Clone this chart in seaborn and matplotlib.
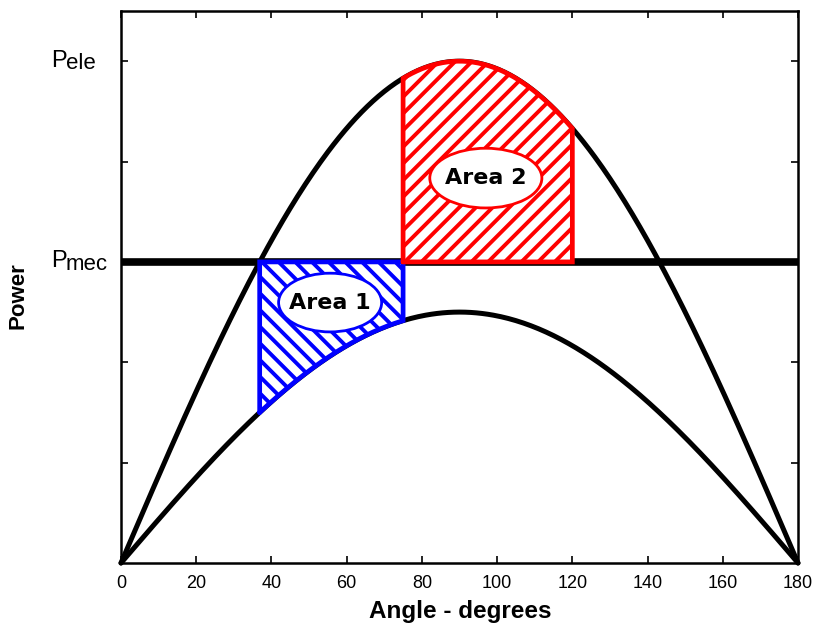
import numpy as np
import pandas as pd
import matplotlib
matplotlib.use("Agg")
import matplotlib.pyplot as plt
import seaborn as sns
from matplotlib.patches import Ellipse

# ---- data ----
p_ele_max = 1.0          # pre/post-fault peak power (Pele)
p_fault_max = 0.5        # during-fault peak power
p_mec = 0.6              # mechanical power (Pmec)
clear_angle = 75.0       # fault clearing angle, degrees
max_angle = 120.0        # maximum swing angle, degrees
x_ticks = [0, 20, 40, 60, 80, 100, 120, 140, 160, 180]
y_tick_vals = [0.2, 0.4, 0.6, 0.8, 1.0]
y_named = [("mec", p_mec), ("ele", p_ele_max)]
area_labels = ["Area 1", "Area 2"]

delta = np.linspace(0, 180, 361)
df = pd.DataFrame({
    "delta": np.concatenate([delta, delta]),
    "P": np.concatenate([p_ele_max * np.sin(np.radians(delta)),
                         p_fault_max * np.sin(np.radians(delta))]),
    "curve": ["ele"] * len(delta) + ["fault"] * len(delta),
})

sns.set_theme(style="white")
plt.rcParams["font.family"] = ["Liberation Sans", "DejaVu Sans"]
plt.rcParams["hatch.linewidth"] = 2.8
for k in ["text.color", "axes.labelcolor", "xtick.color", "ytick.color"]:
    plt.rcParams[k] = "black"

W, H = 822, 628
fig = plt.figure(figsize=(W / 100, H / 100), dpi=100)
ax = fig.add_axes([121 / W, 1 - 563 / H, 677 / W, 552 / H])

sns.lineplot(data=df, x="delta", y="P", units="curve", estimator=None,
             color="black", lw=3.6, ax=ax, legend=False, clip_on=False, zorder=3)
ax.axhline(p_mec, color="black", lw=5.5, zorder=3)

# Area 1 (accelerating)
delta0 = np.degrees(np.arcsin(p_mec / p_ele_max))
d1 = np.linspace(delta0, clear_angle, 100)
low1 = p_fault_max * np.sin(np.radians(d1))
ax.fill_between(d1, low1, p_mec, facecolor="white", edgecolor="blue",
                hatch="\\\\", lw=0, zorder=4)
# Area 2 (decelerating)
d2 = np.linspace(clear_angle, max_angle, 100)
up2 = p_ele_max * np.sin(np.radians(d2))
ax.fill_between(d2, p_mec, up2, facecolor="white", edgecolor="red",
                hatch="//", lw=0, zorder=4)
# outlines
ax.plot(np.r_[d1, d1[::-1], d1[0]], np.r_[low1, np.full_like(d1, p_mec), low1[0]],
        color="blue", lw=3.4, zorder=5, solid_joinstyle="miter")
ax.plot(np.r_[d2, d2[::-1], d2[0]], np.r_[np.full_like(d2, p_mec), up2[::-1], p_mec],
        color="red", lw=3.4, zorder=5, solid_joinstyle="miter")

# labels with ellipses
for (cx, cy, w, h, col), lab in zip([(55.6, 0.519, 27.4, 0.117, "blue"),
                                     (97.0, 0.767, 29.8, 0.119, "red")], area_labels):
    ax.add_patch(Ellipse((cx, cy), w, h, facecolor="white", edgecolor=col,
                         lw=2, zorder=6))
    ax.text(cx, cy, lab, ha="center", va="center", fontsize=16,
            fontweight="bold", family=["DejaVu Sans"], zorder=7)

ax.set_xlim(0, 180)
ax.set_ylim(0, 1.1)
ax.set_xticks(x_ticks)
ax.set_yticks(y_tick_vals)
ax.set_yticklabels([])
ax.set_xlabel("")
ax.set_ylabel("")
ax.tick_params(axis="x", labelsize=13, pad=9)
ax.tick_params(direction="in", length=5, width=1.2, top=True, right=True,
               bottom=True, left=True, color="black")
for s in ax.spines.values():
    s.set_color("black")
    s.set_linewidth(1.8)

# P_ele / P_mec labels
for sub, yv in y_named:
    ax.annotate("P", xy=(0, yv), xycoords=("axes fraction", "data"),
                xytext=(51 - 121, -5.5), textcoords="offset pixels",
                ha="left", va="baseline", fontsize=17)
    ax.annotate(sub, xy=(0, yv), xycoords=("axes fraction", "data"),
                xytext=(66 - 121, -8), textcoords="offset pixels",
                ha="left", va="baseline", fontsize=16)

fig.text(460 / W, 1 - 618 / H, "Angle - degrees", ha="center", va="baseline",
         fontsize=17.5, fontweight="bold")
fig.text(18 / W, 1 - 296 / H, "Power", ha="center", va="center", rotation=90,
         fontsize=16, fontweight="bold")

fig.savefig("out.png", dpi=100)
